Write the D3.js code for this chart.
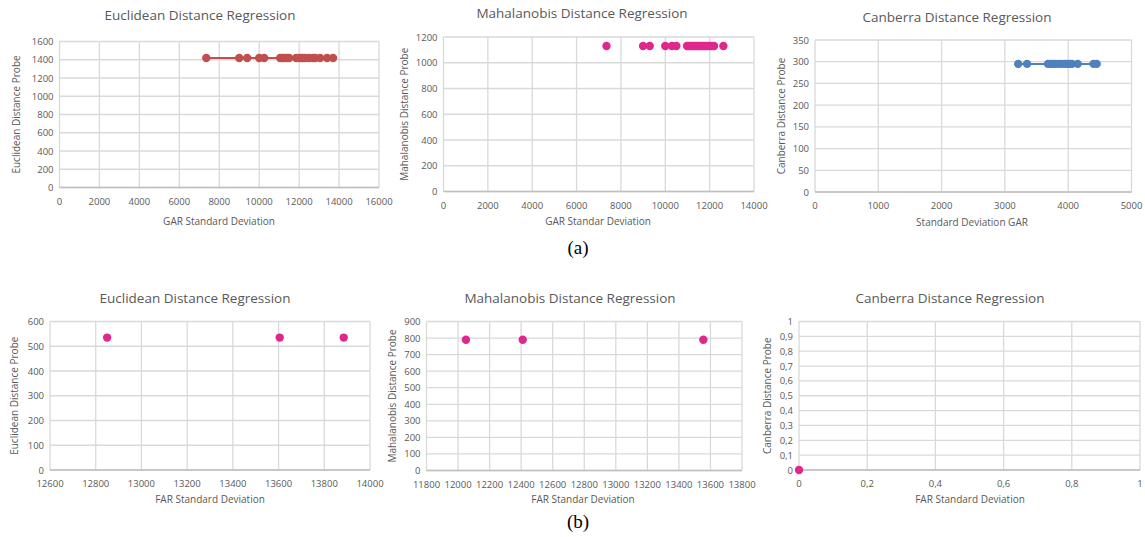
<!DOCTYPE html>
<html>
<head>
<meta charset="utf-8">
<script src="https://cdn.jsdelivr.net/npm/d3@7"></script>
<style>
body{margin:0;background:#fff;}
text{font-family:"Open Sans","Liberation Sans",sans-serif;fill:#595959;}
</style>
</head>
<body>
<svg id="fig" width="1145" height="537"></svg>
<script>
// (a) GAR
var gEucX = [7350,9000,9400,10000,10250,11050,11150,11250,11400,11500,11850,12000,12100,12200,12300,12500,12700,12800,13050,13400,13700];
var gEucY = 1420;
var gMahX = [7350,9000,9300,10000,10300,10500,10980,11060,11140,11230,11320,11400,11480,11570,11650,11740,11830,11920,12000,12100,12200,12620];
var gMahY = 1130;
var gCanX = [3210,3350,3680,3720,3760,3800,3850,3900,3950,3990,4030,4060,4150,4400,4450];
var gCanY = 295;
// (b) FAR
var fEucX = [12850,13605,13885];
var fEucY = 535;
var fMahX = [12050,12410,13555];
var fMahY = 790;
var fCanX = [0];
var fCanY = 0;

var xTicksA1 = [0,2000,4000,6000,8000,10000,12000,14000,16000];
var yTicksA1 = [0,200,400,600,800,1000,1200,1400,1600];
var xTicksA2 = [0,2000,4000,6000,8000,10000,12000,14000];
var yTicksA2 = [0,200,400,600,800,1000,1200];
var xTicksA3 = [0,1000,2000,3000,4000,5000];
var yTicksA3 = [0,50,100,150,200,250,300,350];
var xTicksB1 = [12600,12800,13000,13200,13400,13600,13800,14000];
var yTicksB1 = [0,100,200,300,400,500,600];
var xTicksB2 = [11800,12000,12200,12400,12600,12800,13000,13200,13400,13600,13800];
var yTicksB2 = [0,100,200,300,400,500,600,700,800,900];
var xTicksB3 = [0,0.2,0.4,0.6,0.8,1];
var yTicksB3 = [0,0.1,0.2,0.3,0.4,0.5,0.6,0.7,0.8,0.9,1];

var RED="#c0504d", PINK="#e0278c", BLUE="#4f81bd";
var svg = d3.select("#fig");
var comma = d=>String(d).replace(".",",");

function panel(p){
	var x = d3.scaleLinear().domain(d3.extent(p.xt)).range([p.l,p.r]);
	var y = d3.scaleLinear().domain(d3.extent(p.yt)).range([p.b,p.t]);
	var g = svg.append("g");
	g.selectAll(".vg").data(p.xt).enter().append("line")
	.attr("x1",d=>x(d)).attr("x2",d=>x(d)).attr("y1",p.t).attr("y2",p.b)
	.attr("stroke","#d9d9d9").attr("stroke-width",1.3);
	g.selectAll(".hg").data(p.yt).enter().append("line")
	.attr("x1",p.l).attr("x2",p.r).attr("y1",d=>y(d)).attr("y2",d=>y(d))
	.attr("stroke","#d9d9d9").attr("stroke-width",1.3);
	g.append("line").attr("x1",p.l).attr("x2",p.r).attr("y1",p.b).attr("y2",p.b)
	.attr("stroke","#bfbfbf").attr("stroke-width",1.3);

	var fmt = p.fmt || (d=>d);
	g.selectAll(".xl").data(p.xt).enter().append("text")
	.attr("x",d=>x(d)).attr("y",p.b+17).attr("text-anchor","middle")
	.attr("font-size",9.5).text(fmt);
	g.selectAll(".yl").data(p.yt).enter().append("text")
	.attr("x",p.l-6).attr("y",d=>y(d)+3.5).attr("text-anchor","end")
	.attr("font-size",9.5).text(fmt);

	g.append("text").attr("x",p.tx).attr("y",p.ty).attr("text-anchor","middle")
	.attr("font-size",13.5).text(p.title);
	g.append("text").attr("x",p.xx).attr("y",p.xy).attr("text-anchor","middle")
	.attr("font-size",10).text(p.xlab);
	g.append("text").attr("transform","translate("+p.yx+","+((p.t+p.b)/2)+") rotate(-90)")
	.attr("text-anchor","middle").attr("font-size",10).text(p.ylab);

	var pts = p.xs.map(v=>[v,p.yv]);
	if(p.line){
		g.append("path").attr("d",d3.line().x(d=>x(d[0])).y(d=>y(d[1]))(pts))
		.attr("stroke",p.col).attr("stroke-width",2).attr("fill","none");
	}
	g.selectAll("circle").data(pts).enter().append("circle")
	.attr("cx",d=>x(d[0])).attr("cy",d=>y(d[1])).attr("r",4.2).attr("fill",p.col);
}

panel({xt:xTicksA1,yt:yTicksA1,l:59.5,r:379,t:41.5,b:187.5,xs:gEucX,yv:gEucY,col:RED,line:true,
	title:"Euclidean Distance Regression",tx:200,ty:20,xlab:"GAR Standard Deviation",xx:219,xy:225,
	ylab:"Euclidean Distance Probe",yx:20});
panel({xt:xTicksA2,yt:yTicksA2,l:443.5,r:754,t:37,b:191.5,xs:gMahX,yv:gMahY,col:PINK,line:false,
	title:"Mahalanobis Distance Regression",tx:582,ty:18,xlab:"GAR  Standar Deviation",xx:598,xy:225,
	ylab:"Mahalanobis Distance Probe",yx:408});
panel({xt:xTicksA3,yt:yTicksA3,l:815,r:1131.5,t:40,b:192,xs:gCanX,yv:gCanY,col:BLUE,line:true,
	title:"Canberra Distance Regression",tx:957,ty:22,xlab:"Standard Deviation GAR",xx:972,xy:226,
	ylab:"Canberra Distance Probe",yx:785});
panel({xt:xTicksB1,yt:yTicksB1,l:50,r:370,t:321.5,b:470,xs:fEucX,yv:fEucY,col:PINK,line:false,
	title:"Euclidean Distance Regression",tx:195,ty:303,xlab:"FAR Standard Deviation",xx:210,xy:503,
	ylab:"Euclidean Distance Probe",yx:18});
panel({xt:xTicksB2,yt:yTicksB2,l:426.5,r:742,t:321.5,b:470.5,xs:fMahX,yv:fMahY,col:PINK,line:false,
	title:"Mahalanobis Distance Regression",tx:570,ty:303,xlab:"FAR Standar Deviation",xx:583,xy:503,
	ylab:"Mahalanobis Distance Probe",yx:396});
panel({xt:xTicksB3,yt:yTicksB3,l:799,r:1140,t:321.5,b:470,xs:fCanX,yv:fCanY,col:PINK,line:false,fmt:comma,
	title:"Canberra Distance Regression",tx:950,ty:303,xlab:"FAR Standard Deviation",xx:970,xy:503,
	ylab:"Canberra Distance Probe",yx:771});

svg.append("text").attr("x",578).attr("y",254).attr("text-anchor","middle")
.style("font-family","'Liberation Serif',serif").style("fill","#000").attr("font-size",19).text("(a)");
svg.append("text").attr("x",578).attr("y",528).attr("text-anchor","middle")
.style("font-family","'Liberation Serif',serif").style("fill","#000").attr("font-size",19).text("(b)");
</script>
</body>
</html>
